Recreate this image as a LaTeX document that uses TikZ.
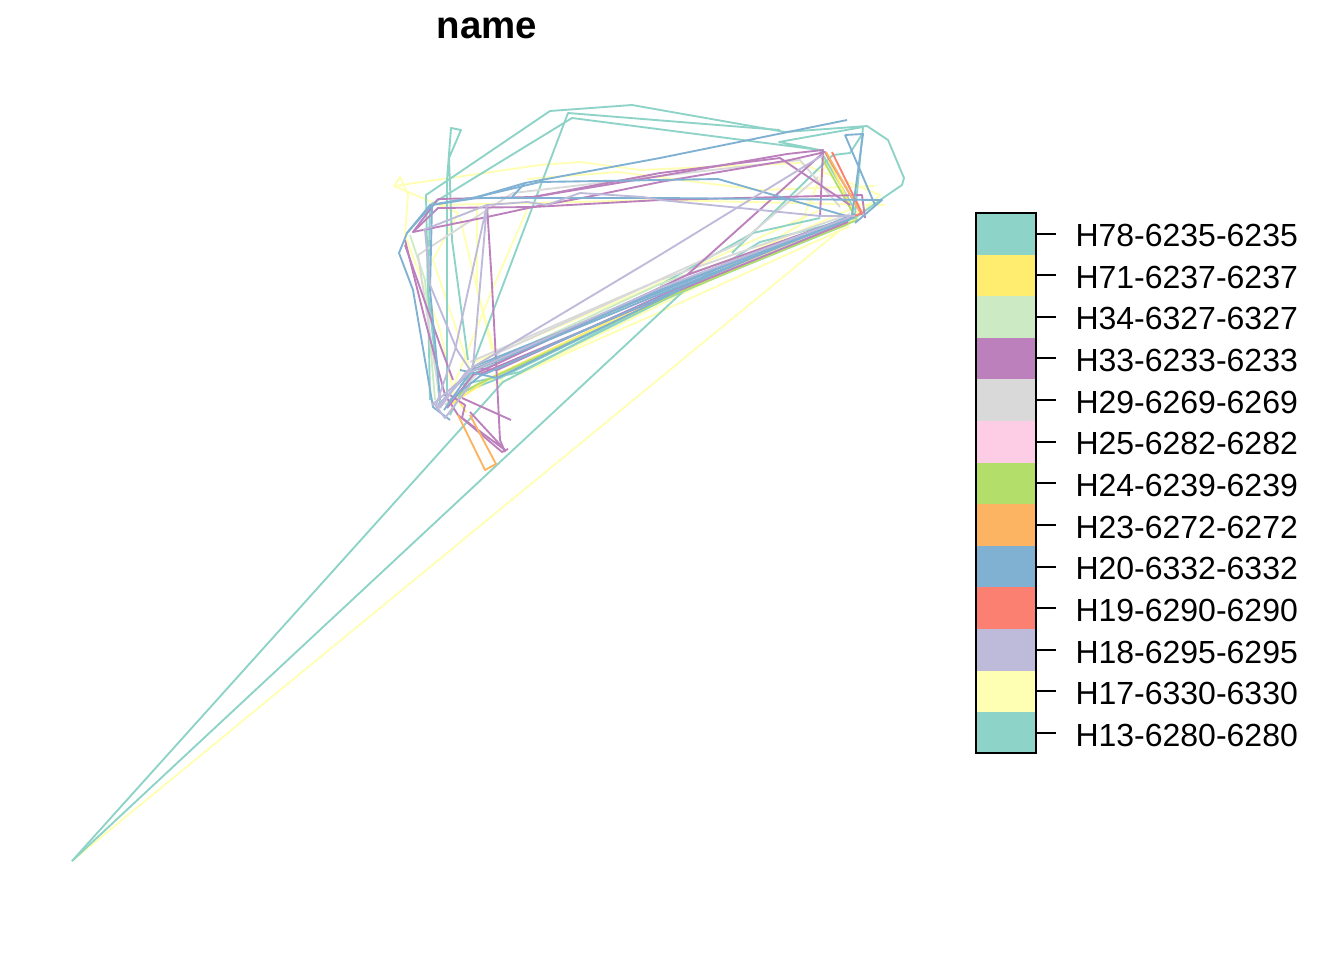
\documentclass[tikz,border=0pt]{standalone}
\usepackage{fontspec}
\setmainfont{Liberation Sans}
\definecolor{setteal}{HTML}{8DD3C7}
\definecolor{setyellow}{HTML}{FFFFB3}
\definecolor{setlav}{HTML}{BEBADA}
\definecolor{setred}{HTML}{FB8072}
\definecolor{setblue}{HTML}{80B1D3}
\definecolor{setorange}{HTML}{FDB462}
\definecolor{setgreen}{HTML}{B3DE69}
\definecolor{setpink}{HTML}{FCCDE5}
\definecolor{setgrey}{HTML}{D9D9D9}
\definecolor{setpurple}{HTML}{BC80BD}
\definecolor{setmint}{HTML}{CCEBC5}
\definecolor{setgold}{HTML}{FFED6F}
\tikzset{every picture/.style={line width=0.75pt},
  track/.style={line width=1.4pt,line join=round},
  legendtick/.style={line width=0.9pt},
  legendtext/.style={anchor=west,font=\fontsize{24}{24}\selectfont,inner sep=0pt},
  titletext/.style={font=\fontsize{28.8}{29}\selectfont\bfseries,inner sep=0pt}}

\begin{document}
\begin{tikzpicture}[x=0.75pt,y=0.75pt,yscale=-1,xscale=1]
\useasboundingbox (0,0) rectangle (1344,960);

% Title
\node [titletext] (title) at (487,28) {name};

%Tracks: pale yellow
\draw [track,setyellow] (72,861) -- (850,222) -- (880,200) ;
\draw [track,setyellow] (433,260) -- (458,213) -- (394,186) -- (400,177) -- (408,195) -- (405,235) -- (440,330) -- (455,400) ;
\draw [track,setyellow] (394,186) -- (540,165) -- (580,162) -- (640,170) -- (800,163) -- (880,195) -- (855,218) ;
\draw [track,setyellow] (527,179) -- (618,172) -- (760,190) -- (875,186) ;
\draw [track,setyellow] (440,205) -- (660,200) -- (885,205) ;
\draw [track,setyellow] (527,210) -- (492,290) -- (450,395) ;
\draw [track,setyellow] (477,203) -- (477,290) -- (503,382) -- (690,290) -- (880,202) ;
\draw [track,setyellow] (460,218) -- (492,350) ;
\draw [track,setyellow] (433,260) -- (470,370) -- (650,296) -- (860,205) ;
\draw [track,setyellow] (445,405) -- (530,360) -- (700,282) -- (800,225) -- (830,155) ;
\draw [track,setyellow] (475,362) -- (640,292) -- (820,210) ;
\draw [track,setyellow] (495,385) -- (660,312) -- (850,226) ;

%Tracks: teal
\draw [track,setteal] (72,861) -- (503,382) -- (640,310) -- (850,220) ;
\draw [track,setteal] (72,861) -- (690,285) -- (760,242) -- (855,218) ;
\draw [track,setteal] (430,400) -- (426,195) -- (550,111) -- (632,105) -- (785,132) -- (867,126) -- (888,140) -- (904,178) -- (902,185) -- (883,198) -- (855,218) ;
\draw [track,setteal] (447,400) -- (447,180) -- (451,128) -- (461,130) -- (449,158) -- (452,240) -- (468,360) ;
\draw [track,setteal] (430,205) -- (572,118) -- (820,150) -- (779,142) -- (863,127) -- (855,215) ;
\draw [track,setteal] (472,367) -- (568,113) -- (780,130) ;
\draw [track,setteal] (430,205) -- (428,290) -- (440,405) ;
\draw [track,setteal] (660,285) -- (753,233) -- (820,218) ;
\draw [track,setteal] (732,253) -- (817,170) -- (833,155) -- (850,153) -- (863,133) ;
\draw [track,setteal] (450,415) -- (470,375) -- (660,290) -- (850,217) ;
\draw [track,setteal] (455,395) -- (500,378) -- (700,280) -- (845,220) ;
\draw [track,setteal] (460,385) -- (520,372) -- (680,292) -- (848,224) ;
\draw [track,setteal] (820,150) -- (855,210) ;

%Tracks: mint, gold, green, grey
\draw [track,setmint] (435,400) -- (425,280) -- (410,235) ;
\draw [track,setmint] (470,372) -- (660,284) -- (855,216) ;
\draw [track,setgold] (450,405) -- (490,378) -- (680,288) -- (855,216) -- (825,152) ;
\draw [track,setgold] (458,400) -- (466,412) ;
\draw [track,setgreen] (452,398) -- (478,384) -- (680,292) -- (857,220) -- (822,158) ;
\draw [track,setgrey] (418,255) -- (487,210) -- (513,193) -- (660,176) -- (800,160) -- (840,207) ;
\draw [track,setgrey] (440,400) -- (418,255) ;
\draw [track,setgrey] (470,362) -- (650,284) -- (740,243) -- (818,177) ;
\draw [track,setgrey] (445,405) -- (500,352) -- (660,280) -- (850,214) ;

%Tracks: purple
\draw [track,setpurple] (438,199) -- (533,197) -- (660,176) -- (787,154) -- (823,150) -- (820,217) ;
\draw [track,setpurple] (438,199) -- (413,232) -- (487,217) -- (533,207) -- (587,197) -- (660,182) -- (790,160) -- (825,152) -- (862,215) ;
\draw [track,setpurple] (413,232) -- (438,208) -- (533,207) -- (660,200) -- (862,195) -- (865,218) ;
\draw [track,setpurple] (533,197) -- (660,173) -- (780,158) -- (850,205) ;
\draw [track,setpurple] (487,205) -- (492,285) -- (497,380) -- (500,440) -- (505,452) ;
\draw [track,setpurple] (508,449) -- (502,452) -- (462,418) -- (465,405) -- (450,395) ;
\draw [track,setpurple] (405,240) -- (425,320) -- (445,395) -- (458,415) -- (505,450) -- (470,412) ;
\draw [track,setpurple] (462,398) -- (511,420) ;
\draw [track,setpurple] (405,245) -- (440,345) -- (453,380) ;
\draw [track,setpurple] (472,368) -- (497,370) -- (660,296) -- (855,215) ;
\draw [track,setpurple] (447,408) -- (473,375) -- (687,275) -- (850,217) ;
\draw [track,setpurple] (480,374) -- (680,290) -- (848,222) ;
\draw [track,setpurple] (687,275) -- (823,153) ;

%Tracks: orange, red
\draw [track,setorange] (458,415) -- (485,470) -- (496,464) -- (470,415) ;
\draw [track,setorange] (826,152) -- (860,212) ;
\draw [track,setred] (832,152) -- (862,213) -- (852,217) ;

%Tracks: blue
\draw [track,setblue] (847,120) -- (660,158) -- (525,183) -- (477,197) -- (430,205) -- (407,233) -- (399,253) -- (413,290) -- (433,407) -- (450,420) ;
\draw [track,setblue] (845,135) -- (863,134) -- (852,215) ;
\draw [track,setblue] (845,135) -- (875,205) ;
\draw [track,setblue] (407,233) -- (432,205) -- (477,198) -- (660,198) -- (882,200) -- (855,223) ;
\draw [track,setblue] (477,197) -- (540,182) -- (718,179) -- (850,217) ;
\draw [track,setblue] (432,205) -- (430,290) -- (437,363) -- (440,400) ;
\draw [track,setblue] (438,405) -- (470,372) -- (660,294) -- (855,217) ;
\draw [track,setblue] (444,410) -- (472,370) -- (660,290) -- (850,219) ;
\draw [track,setblue] (450,400) -- (480,376) -- (700,280) -- (855,214) ;
\draw [track,setblue] (475,366) -- (650,296) -- (845,218) ;
\draw [track,setblue] (478,368) -- (655,292) -- (848,217) ;
\draw [track,setblue] (460,370) -- (497,378) -- (680,290) ;
\draw [track,setblue] (525,183) -- (512,197) ;

%Tracks: lavender
\draw [track,setlav] (423,230) -- (487,205) -- (527,202) -- (547,205) -- (580,193) -- (643,197) -- (660,200) -- (820,216) -- (855,216) ;
\draw [track,setlav] (437,407) -- (473,367) -- (660,255) -- (823,155) ;
\draw [track,setlav] (436,405) -- (455,350) -- (487,205) -- (473,367) ;
\draw [track,setlav] (425,230) -- (430,285) -- (457,350) -- (470,370) ;
\draw [track,setlav] (432,405) -- (470,372) -- (660,288) -- (850,217) ;
\draw [track,setlav] (433,402) -- (445,418) -- (470,385) ;
\draw [track,setlav] (437,410) -- (470,368) ;
\draw [track,setlav] (440,408) -- (466,372) ;

%Legend swatches
\fill [setteal] (976,213) rectangle (1036,254.5) ;
\fill [setgold] (976,254.5) rectangle (1036,296) ;
\fill [setmint] (976,296) rectangle (1036,338) ;
\fill [setpurple] (976,338) rectangle (1036,379) ;
\fill [setgrey] (976,379) rectangle (1036,421) ;
\fill [setpink] (976,421) rectangle (1036,463) ;
\fill [setgreen] (976,463) rectangle (1036,504) ;
\fill [setorange] (976,504) rectangle (1036,546) ;
\fill [setblue] (976,546) rectangle (1036,587) ;
\fill [setred] (976,587) rectangle (1036,629) ;
\fill [setlav] (976,629) rectangle (1036,671) ;
\fill [setyellow] (976,671) rectangle (1036,712) ;
\fill [setteal] (976,712) rectangle (1036,753) ;
\draw [legendtick] (976,213) rectangle (1036,753) ;

%Legend ticks
\draw [legendtick] (1036,234) -- (1056,234) ;
\draw [legendtick] (1036,275) -- (1056,275) ;
\draw [legendtick] (1036,317) -- (1056,317) ;
\draw [legendtick] (1036,358) -- (1056,358) ;
\draw [legendtick] (1036,400) -- (1056,400) ;
\draw [legendtick] (1036,442) -- (1056,442) ;
\draw [legendtick] (1036,483) -- (1056,483) ;
\draw [legendtick] (1036,525) -- (1056,525) ;
\draw [legendtick] (1036,567) -- (1056,567) ;
\draw [legendtick] (1036,608) -- (1056,608) ;
\draw [legendtick] (1036,650) -- (1056,650) ;
\draw [legendtick] (1036,691) -- (1056,691) ;
\draw [legendtick] (1036,733) -- (1056,733) ;

% Text Node
\node [legendtext] (h78) at (1075,235.5) {H78-6235-6235};
\node [legendtext] (h71) at (1075,277) {H71-6237-6237};
\node [legendtext] (h34) at (1075,318.5) {H34-6327-6327};
\node [legendtext] (h33) at (1075,360) {H33-6233-6233};
\node [legendtext] (h29) at (1075,402) {H29-6269-6269};
\node [legendtext] (h25) at (1075,443.5) {H25-6282-6282};
\node [legendtext] (h24) at (1075,485) {H24-6239-6239};
\node [legendtext] (h23) at (1075,527) {H23-6272-6272};
\node [legendtext] (h20) at (1075,568.5) {H20-6332-6332};
\node [legendtext] (h19) at (1075,610) {H19-6290-6290};
\node [legendtext] (h18) at (1075,652) {H18-6295-6295};
\node [legendtext] (h17) at (1075,693) {H17-6330-6330};
\node [legendtext] (h13) at (1075,735) {H13-6280-6280};

\end{tikzpicture}
\end{document}
